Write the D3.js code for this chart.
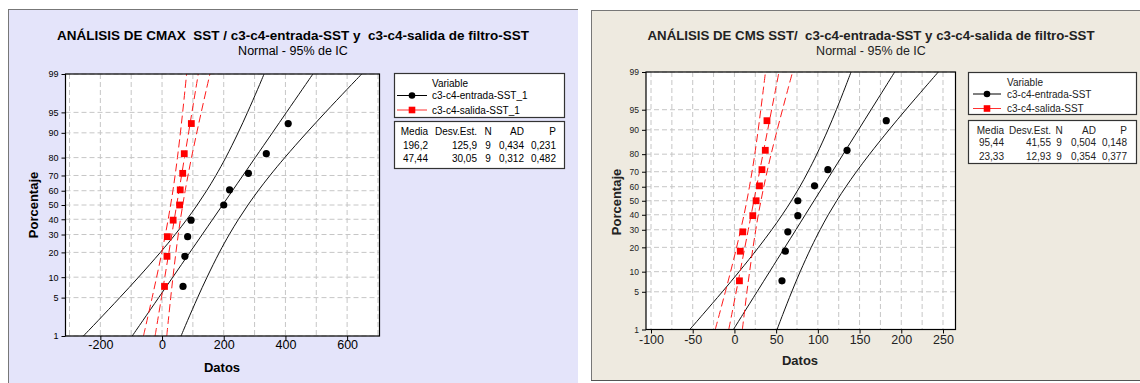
<!DOCTYPE html>
<html>
<head>
<meta charset="utf-8">
<script src="https://cdn.jsdelivr.net/npm/d3@7"></script>
<style>
  body { margin: 0; background: #fff; }
  svg { display: block; }
  text { font-family: "Liberation Sans", Arial, sans-serif; }
  .title { white-space: pre; }
</style>
</head>
<body>
<svg id="chart" width="1140" height="383"></svg>
<script>
// percent levels used on the probability axis
const pctGrid = [1, 5, 10, 20, 30, 40, 50, 60, 70, 80, 90, 95, 99];
const bandPct = [1, 2, 5, 10, 20, 30, 40, 50, 60, 70, 80, 90, 95, 98, 99];
const rankPct = [7.4, 18.1, 28.7, 39.4, 50, 60.6, 71.3, 81.9, 92.6];

// CMAX SST (left chart)
const cmaxEntrada = [68, 74, 83, 94, 200, 219, 280, 338, 409];
const cmaxSalida = [8, 16, 17, 36, 57, 59, 67, 72, 95];
const cmaxEntradaFit = [-96.7, -62.4, -10.9, 34.9, 90.2, 130.2, 164.3, 196.2, 228.1, 262.2, 302.2, 357.6, 403.3, 454.8, 489.1];
const cmaxEntradaLo = [-255, -207.4, -137.1, -76.2, -5.5, 42.5, 80.7, 113.9, 144.5, 174.5, 206.5, 246.6, 277.1, 309.8, 330.8];
const cmaxEntradaHi = [61.6, 82.6, 115.3, 145.9, 185.9, 217.9, 247.9, 278.5, 311.7, 349.9, 397.9, 468.6, 529.5, 599.8, 647.4];
const cmaxSalidaFit = [-22.5, -14.3, -2.0, 8.9, 22.2, 31.7, 39.8, 47.4, 55.1, 63.2, 72.7, 86.0, 96.9, 109.2, 117.4];
const cmaxSalidaLo = [-60.3, -48.9, -32.1, -17.6, -0.6, 10.8, 19.9, 27.8, 35.2, 42.3, 49.9, 59.5, 66.8, 74.6, 79.6];
const cmaxSalidaHi = [15.3, 20.3, 28.1, 35.4, 45.0, 52.6, 59.7, 67.1, 75.0, 84.1, 95.5, 112.5, 127.0, 143.8, 155.2];
const cmaxXTicks = [-200, 0, 200, 400, 600];
const cmaxXGrid = [-300, -200, -100, 0, 100, 200, 300, 400, 500, 600, 700];
const cmaxLabels = ['c3-c4-entrada-SST_1', 'c3-c4-salida-SST_1'];
const cmaxStats = [['196,2', '125,9', '9', '0,434', '0,231'], ['47,44', '30,05', '9', '0,312', '0,482']];

// CMS SST (right chart)
const cmsEntrada = [57, 61, 64, 76, 76, 96, 112, 135, 182];
const cmsSalida = [6, 7, 10, 22, 26, 30, 33, 37, 39];
const cmsEntradaFit = [-1.2, 10.1, 27.1, 42.2, 60.5, 73.7, 84.9, 95.4, 106.0, 117.2, 130.4, 148.7, 163.8, 180.8, 192.1];
const cmsEntradaLo = [-53.5, -37.8, -14.5, 5.6, 28.9, 44.7, 57.3, 68.3, 78.4, 88.2, 98.8, 112.1, 122.2, 132.9, 139.8];
const cmsEntradaHi = [51.1, 58.0, 68.7, 78.8, 92.1, 102.7, 112.5, 122.6, 133.6, 146.2, 162.0, 185.3, 205.4, 228.7, 244.4];
const cmsSalidaFit = [-6.8, -3.2, 2.1, 6.8, 12.5, 16.6, 20.1, 23.3, 26.6, 30.1, 34.2, 39.9, 44.6, 49.9, 53.4];
const cmsSalidaLo = [-23.0, -18.1, -10.9, -4.6, 2.6, 7.5, 11.5, 14.9, 18.0, 21.1, 24.4, 28.5, 31.6, 35.0, 37.2];
const cmsSalidaHi = [9.5, 11.7, 15.0, 18.2, 22.3, 25.6, 28.6, 31.8, 35.2, 39.1, 44.0, 51.3, 57.6, 64.8, 69.7];
const cmsXTicks = [-100, -50, 0, 50, 100, 150, 200, 250];
const cmsXGrid = [-100, -75, -50, -25, 0, 25, 50, 75, 100, 125, 150, 175, 200, 225, 250];
const cmsLabels = ['c3-c4-entrada-SST', 'c3-c4-salida-SST'];
const cmsStats = [['95,44', '41,55', '9', '0,504', '0,148'], ['23,33', '12,93', '9', '0,354', '0,377']];

const statHeaders = ['Media', 'Desv.Est.', 'N', 'AD', 'P'];

// inverse normal cdf (Acklam) for the probability scale
function probit(p) {
  const a = [-3.969683028665376e+01, 2.209460984245205e+02, -2.759285104469687e+02, 1.383577518672690e+02, -3.066479806614716e+01, 2.506628277459239e+00];
  const b = [-5.447609879822406e+01, 1.615858368580409e+02, -1.556989798598866e+02, 6.680131188771972e+01, -1.328068155288572e+01];
  const c = [-7.784894002430293e-03, -3.223964580411365e-01, -2.400758277161838e+00, -2.549732539343734e+00, 4.374664141464968e+00, 2.938163982698783e+00];
  const d = [7.784695709041462e-03, 3.224671290700398e-01, 2.445134137142996e+00, 3.754408661907416e+00];
  const tail = q => (((((c[0]*q+c[1])*q+c[2])*q+c[3])*q+c[4])*q+c[5]) / ((((d[0]*q+d[1])*q+d[2])*q+d[3])*q+1);
  if (p < 0.02425) return tail(Math.sqrt(-2 * Math.log(p)));
  if (p > 1 - 0.02425) return -tail(Math.sqrt(-2 * Math.log(1 - p)));
  const q = p - 0.5, r = q * q;
  return (((((a[0]*r+a[1])*r+a[2])*r+a[3])*r+a[4])*r+a[5])*q / (((((b[0]*r+b[1])*r+b[2])*r+b[3])*r+b[4])*r+1);
}

const svg = d3.select('#chart');
svg.append('rect').attr('width', 1140).attr('height', 383).attr('fill', '#fff');

const panels = [
  {
    id: 'cmax', bg: '#e4e4fa', ink: '#000',
    box: { x: 8, y: 9, w: 570, h: 380 }, borderBottom: false,
    title: 'ANÁLISIS DE CMAX  SST / c3-c4-entrada-SST y  c3-c4-salida de filtro-SST',
    titleX: 293, titleW: 472,
    plot: { l: 65.5, r: 379.5, t: 74, b: 336 },
    xDomain: [-313, 705], xTicks: cmaxXTicks, xGrid: cmaxXGrid,
    yTickSize: 9,
    entrada: cmaxEntrada, salida: cmaxSalida,
    curves: [
      { v: cmaxEntradaLo, red: false }, { v: cmaxEntradaFit, red: false }, { v: cmaxEntradaHi, red: false },
      { v: cmaxSalidaLo, red: true }, { v: cmaxSalidaFit, red: true }, { v: cmaxSalidaHi, red: true }
    ],
    labels: cmaxLabels, stats: cmaxStats,
    legend: { x: 394, y: 73, w: 170, h: 44, textX: 432, lineX: [397, 427], rows: [83, 95.5, 110] },
    table: { y: 121, h: 47, cols: [428, 477, 488, 524, 556], rows: [131, 145, 158] },
    yLabel: { x: 33, y: 205 }, xLabel: { x: 222, y: 367 }, xTickY: 349
  },
  {
    id: 'cms', bg: '#eeeae0', ink: '#222',
    box: { x: 591, y: 10, w: 560, h: 370 }, borderBottom: true,
    title: 'ANÁLISIS DE CMS SST/  c3-c4-entrada-SST y c3-c4-salida de filtro-SST',
    titleX: 871, titleW: 447,
    plot: { l: 646, r: 955.5, t: 72, b: 329.5 },
    xDomain: [-106, 265], xTicks: cmsXTicks, xGrid: cmsXGrid,
    yTickSize: 8.5,
    entrada: cmsEntrada, salida: cmsSalida,
    curves: [
      { v: cmsEntradaLo, red: false }, { v: cmsEntradaFit, red: false }, { v: cmsEntradaHi, red: false },
      { v: cmsSalidaLo, red: true }, { v: cmsSalidaFit, red: true }, { v: cmsSalidaHi, red: true }
    ],
    labels: cmsLabels, stats: cmsStats,
    legend: { x: 968, y: 72, w: 168, h: 42, textX: 1007, lineX: [973, 1001], rows: [82, 94, 108.5] },
    table: { y: 120, h: 43, cols: [1004, 1051, 1059, 1096, 1127], rows: [130, 142.5, 156.5] },
    yLabel: { x: 616, y: 202 }, xLabel: { x: 800, y: 360 }, xTickY: 344
  }
];

function drawPanel(cfg) {
  const g = svg.append('g').attr('id', cfg.id);
  const bx = cfg.box;

  g.append('rect').attr('x', bx.x).attr('y', bx.y).attr('width', bx.w).attr('height', bx.h).attr('fill', cfg.bg);
  g.append('line').attr('x1', bx.x + 0.5).attr('x2', bx.x + 0.5).attr('y1', bx.y).attr('y2', bx.y + bx.h)
    .attr('stroke', '#777');
  g.append('line').attr('x1', bx.x).attr('x2', bx.x + bx.w).attr('y1', bx.y + 0.5).attr('y2', bx.y + 0.5)
    .attr('stroke', '#777');
  if (cfg.borderBottom) {
    g.append('line').attr('x1', bx.x).attr('x2', bx.x + bx.w).attr('y1', bx.y + bx.h + 0.5).attr('y2', bx.y + bx.h + 0.5)
      .attr('stroke', '#555');
  }

  // titles
  g.append('text').attr('class', 'title').attr('x', cfg.titleX).attr('y', 40).attr('text-anchor', 'middle')
    .attr('font-size', 12.5).attr('font-weight', 'bold').attr('fill', cfg.ink)
    .attr('textLength', cfg.titleW).attr('lengthAdjust', 'spacingAndGlyphs')
    .text(cfg.title);
  g.append('text').attr('x', cfg.titleX).attr('y', 55).attr('text-anchor', 'middle')
    .attr('font-size', 12.5).attr('fill', cfg.ink)
    .text('Normal - 95% de IC');

  const p = cfg.plot;
  const x = d3.scaleLinear().domain(cfg.xDomain).range([p.l, p.r]);
  const yz = d3.scaleLinear().domain([probit(0.01), probit(0.99)]).range([p.b, p.t]);
  const y = pct => yz(probit(pct / 100));

  g.append('rect').attr('x', p.l).attr('y', p.t).attr('width', p.r - p.l).attr('height', p.b - p.t).attr('fill', '#fff');

  const clipId = 'clip-' + cfg.id;
  g.append('clipPath').attr('id', clipId)
    .append('rect').attr('x', p.l).attr('y', p.t).attr('width', p.r - p.l).attr('height', p.b - p.t);

  // grid
  g.append('g').selectAll('line').data(cfg.xGrid).join('line')
    .attr('x1', d => x(d)).attr('x2', d => x(d)).attr('y1', p.t).attr('y2', p.b)
    .attr('stroke', '#c6c6c6').attr('stroke-dasharray', '5,3');
  g.append('g').selectAll('line').data(pctGrid).join('line')
    .attr('x1', p.l).attr('x2', p.r).attr('y1', d => y(d)).attr('y2', d => y(d))
    .attr('stroke', '#c6c6c6').attr('stroke-dasharray', '5,3');

  // fit lines and confidence bands
  const line = d3.line().x(d => x(d[1])).y(d => y(d[0])).curve(d3.curveCatmullRom);
  const curveG = g.append('g').attr('clip-path', `url(#${clipId})`);
  cfg.curves.forEach(cv => {
    curveG.append('path')
      .attr('d', line(d3.zip(bandPct, cv.v)))
      .attr('fill', 'none')
      .attr('stroke', cv.red ? '#ff1a1a' : '#111')
      .attr('stroke-width', 1)
      .attr('stroke-dasharray', cv.red ? '8,4' : null);
  });

  // points
  g.append('g').selectAll('circle').data(d3.zip(rankPct, cfg.entrada)).join('circle')
    .attr('cx', d => x(d[1])).attr('cy', d => y(d[0])).attr('r', 3.6).attr('fill', '#000');
  g.append('g').selectAll('rect').data(d3.zip(rankPct, cfg.salida)).join('rect')
    .attr('x', d => x(d[1]) - 3.4).attr('y', d => y(d[0]) - 3.4)
    .attr('width', 6.8).attr('height', 6.8).attr('fill', '#ff0000');

  // frame
  g.append('rect').attr('x', p.l).attr('y', p.t).attr('width', p.r - p.l).attr('height', p.b - p.t)
    .attr('fill', 'none').attr('stroke', '#000').attr('stroke-width', 1.2);

  // axes
  const xAxis = g.append('g').attr('transform', `translate(0,${p.b})`)
    .call(d3.axisBottom(x).tickValues(cfg.xTicks).tickSize(4).tickSizeOuter(0).tickFormat(d3.format('d')));
  xAxis.select('.domain').remove();
  xAxis.selectAll('text').attr('font-size', 12.5).attr('fill', cfg.ink).attr('y', cfg.xTickY - p.b - 4)
    .attr('dy', '0.35em').attr('font-family', '"Liberation Sans", Arial, sans-serif')
    .text(d => d < 0 ? '-' + Math.abs(d) : d);
  xAxis.selectAll('line').attr('stroke', '#000');

  const yAxis = g.append('g').attr('transform', `translate(${p.l},0)`)
    .call(d3.axisLeft(yz).tickValues(pctGrid.map(d => probit(d / 100))).tickSize(4).tickSizeOuter(0)
      .tickFormat((d, i) => pctGrid[i]));
  yAxis.select('.domain').remove();
  yAxis.selectAll('text').attr('font-size', cfg.yTickSize).attr('fill', cfg.ink)
    .attr('font-family', '"Liberation Sans", Arial, sans-serif');
  yAxis.selectAll('line').attr('stroke', '#000');

  g.append('text').attr('transform', `translate(${cfg.yLabel.x},${cfg.yLabel.y}) rotate(-90)`)
    .attr('text-anchor', 'middle').attr('dy', '0.35em')
    .attr('font-size', 13).attr('font-weight', 'bold').attr('fill', cfg.ink).text('Porcentaje');
  g.append('text').attr('x', cfg.xLabel.x).attr('y', cfg.xLabel.y).attr('dy', '0.35em')
    .attr('text-anchor', 'middle')
    .attr('font-size', 13).attr('font-weight', 'bold').attr('fill', cfg.ink).text('Datos');

  // legend box
  const lg = cfg.legend;
  g.append('rect').attr('x', lg.x + 0.5).attr('y', lg.y + 0.5).attr('width', lg.w).attr('height', lg.h)
    .attr('fill', '#fff').attr('stroke', '#333').attr('stroke-width', 1.2);
  g.append('text').attr('x', lg.textX).attr('y', lg.rows[0]).attr('dy', '0.35em')
    .attr('font-size', 10).attr('fill', cfg.ink).text('Variable');
  cfg.labels.forEach((lab, i) => {
    const ry = lg.rows[i + 1];
    const red = i === 1;
    g.append('line').attr('x1', lg.lineX[0]).attr('x2', lg.lineX[1]).attr('y1', ry).attr('y2', ry)
      .attr('stroke', red ? '#ff3030' : '#000');
    const mx = (lg.lineX[0] + lg.lineX[1]) / 2;
    if (red) {
      g.append('rect').attr('x', mx - 3.3).attr('y', ry - 3.3).attr('width', 6.6).attr('height', 6.6).attr('fill', '#ff0000');
    } else {
      g.append('circle').attr('cx', mx).attr('cy', ry).attr('r', 3.3).attr('fill', '#000');
    }
    g.append('text').attr('x', lg.textX).attr('y', ry).attr('dy', '0.35em')
      .attr('font-size', 10).attr('fill', cfg.ink).text(lab);
  });

  // stats table
  const tb = cfg.table;
  g.append('rect').attr('x', lg.x + 0.5).attr('y', tb.y + 0.5).attr('width', lg.w).attr('height', tb.h)
    .attr('fill', '#fff').attr('stroke', '#333').attr('stroke-width', 1.2);
  const rowsText = [statHeaders].concat(cfg.stats);
  rowsText.forEach((row, ri) => {
    row.forEach((cell, ci) => {
      g.append('text').attr('x', tb.cols[ci]).attr('y', tb.rows[ri]).attr('dy', '0.35em')
        .attr('text-anchor', ci === 2 ? 'middle' : 'end')
        .attr('font-size', 10).attr('fill', cfg.ink).text(cell);
    });
  });
}

panels.forEach(drawPanel);
</script>
</body>
</html>
